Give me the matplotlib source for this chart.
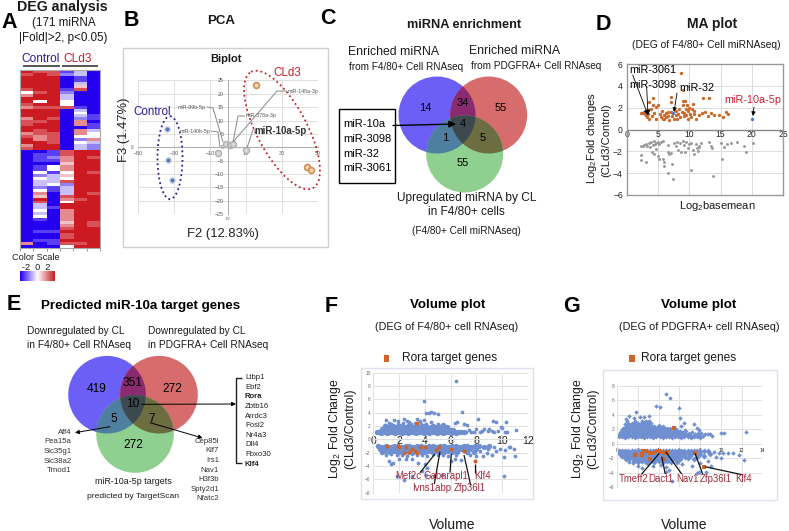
import matplotlib
matplotlib.use("Agg")
import matplotlib.pyplot as plt
import numpy as np
from matplotlib.colors import LinearSegmentedColormap
from matplotlib.patches import Circle, Ellipse, Polygon, Rectangle

plt.rcParams['font.family'] = ['Liberation Sans', 'DejaVu Sans']
plt.rcParams['mathtext.default'] = 'regular'

W, H = 789, 531

# ---------- A: heat map (level 0 = -2 ... 4 = 0 ... 8 = +2), one string per sample
HEAT_COLS = [
    "878888746" "887688867" "788678867" "00000000000" "00000000000" "00000000060",
    "788888878" "848788887" "887766888" "01110114243" "32465873343" "41000100100",
    "778888888" "888788878" "888777788" "11210441333" "41100000100" "00000100110",
    "120000123" "344700000" "000000000" "77665664547" "23337648866" "66567877874",
    "331135700" "000134326" "606642433" "88888888888" "88888788888" "88888888878",
    "000000000" "000000110" "113446322" "88788887888" "88878888888" "88778888888",
]
COLOR_SCALE_LABELS = "-2  0  2"

# ---------- B: PCA
PCA_CONTROL = [(-33.7, 7.0), (-33.2, -4.8), (-31.3, -12.1)]
PCA_CLD3 = [(15.6, 23.2), (43.7, -7.4), (46.3, -8.4)]
PCA_MIRNA = [(-5.4, -2.0), (-1.1, 1.4), (1.1, 0.8), (2.6, 1.4), (9.8, -1.1)]
PCA_XTICKS = [-50, -30, -10, 10, 30, 50]
PCA_YTICKS = [-25, -20, -15, -10, -5, 0, 5, 10, 15, 20, 25]

# ---------- D: MA plot
MA_UP = [(2.2,1.5),(2.5,1.5),(2.7,1.6),(2.9,1.4),(3.0,1.6),(3.1,1.3),(3.2,1.1),(3.3,1.8),(3.4,1.4),(3.5,1.0),
         (3.6,2.5),(3.8,1.9),(4.0,1.2),(4.1,2.85),(4.2,2.2),(4.4,1.5),(4.6,1.0),(4.7,2.1),(5.0,2.25),(5.3,1.4),
         (5.5,1.15),(5.6,1.7),(5.7,0.95),(5.9,1.3),(6.0,1.0),(6.2,1.5),(6.3,1.1),(6.5,1.6),(6.6,1.2),(6.8,0.9),
         (7.0,3.0),(7.0,2.5),(7.1,1.6),(7.2,1.2),(7.5,1.0),(7.8,1.7),(7.9,1.3),(8.0,0.95),(8.2,1.4),(8.4,1.9),
         (8.5,1.1),(8.6,5.15),(9.0,3.6),(8.8,1.6),(8.9,2.2),(9.0,2.6),(9.1,1.5),(9.2,1.2),(9.3,2.6),(9.4,1.9),
         (9.5,1.3),(9.6,2.2),(9.7,1.0),(9.8,1.7),(10.0,2.0),(10.1,1.4),(10.2,1.1),(10.4,1.9),(10.5,2.3),(10.7,1.4),
         (10.8,1.7),(11.0,1.0),(11.5,1.3),(12.0,1.5),(12.1,2.87),(12.5,1.6),(13.0,1.2),(13.2,2.87),(13.4,1.5),
         (14.0,1.3),(14.8,1.3),(15.4,1.1),(15.9,1.6),(16.2,1.4)]
MA_HIT = [(3.1,1.6),(7.3,1.55),(20.1,1.0)]
MA_DOWN = [(2.2,-1.55),(2.5,-1.5),(2.8,-1.4),(3.0,-1.3),(3.2,-1.5),(3.5,-1.2),(3.7,-1.6),(3.9,-1.1),(4.1,-1.4),
           (4.3,-1.05),(4.5,-1.3),(4.7,-1.2),(5.0,-1.1),(5.2,-1.3),(5.4,-1.15),(5.7,-1.05),(4.0,-2.1),(4.3,-2.2),
           (4.7,-1.8),(5.0,-2.4),(5.2,-2.7),(5.7,-2.7),(5.9,-3.0),(2.3,-2.3),(2.2,-2.8),(3.0,-2.95),(6.0,-3.3),
           (6.5,-1.4),(6.5,-2.1),(6.8,-2.2),(7.1,-2.15),(6.5,-3.95),(7.2,-3.2),(7.4,-4.5),(7.5,-1.2),(7.8,-1.5),
           (8.0,-1.1),(8.2,-1.9),(8.5,-1.2),(8.6,-2.1),(9.0,-1.05),(9.1,-1.4),(9.3,-2.1),(9.5,-1.1),(9.8,-1.7),
           (10.0,-1.3),(10.2,-3.7),(10.2,-1.2),(10.5,-1.9),(10.7,-2.2),(11.0,-1.3),(11.2,-1.7),(11.3,-2.0),
           (11.5,-1.5),(11.8,-1.2),(11.6,-1.6),(13.2,-1.1),(13.4,-1.5),(13.7,-1.7),(13.8,-4.25),(15.0,-1.2),
           (15.2,-2.7),(15.5,-1.6),(16.0,-1.3),(16.7,-1.2),(17.6,-1.1),(18.7,-1.55),(19.0,-2.05),(20.2,-1.25)]

# ---------- F: F4/80+ volume plot (isolated points, then the dense bands)
F_UP_SPARSE = [(6.4,8.8),(3.95,5.75),(4.1,3.9),(4.3,4.0),(4.5,4.15),(4.7,4.0),(5.0,3.8),(6.9,4.05),(6.3,2.5),(6.5,2.6),
        (7.0,2.3),(7.3,2.2),(8.1,3.0),(9.3,2.8),(9.5,2.6),(10.3,2.55),(3.4,3.1),(3.6,2.8),(3.9,2.9),(1.0,2.95),
        (1.6,2.9),(2.4,3.0),(2.6,2.8),(1.9,2.7),(0.9,2.2),(1.2,2.5),(2.8,2.6),(4.5,2.6),(11.1,1.35),(10.4,1.1),
        (10.2,1.1),(9.9,1.9),(10.0,1.7),(9.7,1.3),(9.2,1.2),(9.0,1.6),(8.9,1.2),(8.6,1.5),(8.3,1.1),(8.0,1.6),
        (7.8,1.1),(7.6,1.05),(7.4,1.4),(7.2,1.1),(8.4,1.2),(9.4,1.1),
        (1.4,2.35),(1.9,2.3),(2.3,2.4),(2.9,2.25),(3.2,2.4),(3.7,2.3),(4.1,2.35),(4.6,2.2),(5.0,2.25)]
F_UP_BAND = [(0.3,1.05),(0.45,1.1),(0.6,1.0),(0.75,1.15),(0.9,1.05),(1.05,1.0),(1.2,1.1),(1.35,1.05),(1.5,1.15),(1.65,1.0),
        (1.8,1.1),(1.95,1.05),(2.1,1.15),(2.25,1.0),(2.4,1.1),(2.55,1.05),(2.7,1.0),(2.85,1.15),(3.0,1.05),(3.15,1.1),
        (3.3,1.0),(3.45,1.1),(3.6,1.05),(3.75,1.15),(3.9,1.0),(4.05,1.1),(4.2,1.05),(4.35,1.0),(4.5,1.1),(4.65,1.05),
        (4.8,1.15),(4.95,1.0),(5.1,1.1),(5.25,1.05),(5.4,1.0),(5.55,1.1),(5.7,1.05),(5.85,1.15),(6.0,1.0),(6.15,1.1),
        (6.3,1.05),(6.45,1.0),(6.6,1.1),(6.8,1.05),(7.0,1.1),
        (0.7,1.5),(0.95,1.45),(1.2,1.6),(1.45,1.5),(1.7,1.55),(1.95,1.45),(2.2,1.6),(2.45,1.5),(2.7,1.55),(2.95,1.45),
        (3.2,1.6),(3.45,1.5),(3.7,1.55),(3.95,1.45),(4.2,1.6),(4.45,1.5),(4.7,1.5),(4.95,1.55),(5.2,1.45),(5.45,1.55),
        (5.7,1.5),(5.95,1.45),(6.2,1.4),
        (0.9,1.95),(1.2,1.85),(1.5,2.0),(1.8,1.9),(2.1,1.95),(2.4,1.85),(2.7,2.0),(3.0,1.9),(3.3,1.95),(3.6,1.85),
        (3.9,2.0),(4.2,1.85),(4.5,1.9),(4.8,1.85),(5.1,1.9),(5.4,2.1),(5.7,1.85)]
F_DOWN_SPARSE = [(1.8,-5.5),(2.4,-6.05),(3.0,-5.5),(1.2,-3.3),(1.4,-3.7),(1.5,-3.5),(2.0,-3.0),(2.5,-3.0),(3.0,-3.0),
          (3.5,-3.5),(4.0,-3.7),(4.2,-4.3),(3.8,-4.8),(4.1,-5.3),(5.3,-5.3),(4.7,-5.5),(6.0,-3.3),(6.3,-3.0),
          (6.8,-3.1),(7.5,-2.4),(8.0,-2.5),(8.5,-2.5),(8.8,-2.1),(9.2,-2.3),(9.5,-1.7),(10.1,-2.6),(10.6,-1.2),
          (10.9,-1.5),(11.0,-2.5),(10.1,-5.5),(10.5,-1.1),(10.2,-1.6),(9.8,-1.4),(9.4,-1.2),(8.9,-1.4),(8.3,-1.7),
          (1.0,-2.3),(1.4,-2.25),(1.8,-2.4),(2.2,-2.3),(2.6,-2.45),(3.0,-2.25),(3.4,-2.4),(3.8,-2.3),(4.2,-2.45),(4.6,-2.25),
          (5.0,-2.4),(5.4,-2.3),(5.8,-2.5),(6.4,-2.4)]
F_DOWN_BAND = [(0.4,-1.05),(0.7,-1.1),(1.0,-1.0),(1.3,-1.1),(1.6,-1.05),(1.9,-1.0),(2.2,-1.1),(2.5,-1.05),(2.8,-1.0),(3.1,-1.1),
          (3.4,-1.05),(3.7,-1.0),(4.0,-1.1),(4.3,-1.05),(4.6,-1.0),(4.9,-1.1),(5.2,-1.05),(5.5,-1.0),(5.8,-1.1),(6.1,-1.05),
          (6.4,-1.0),(6.7,-1.1),(7.0,-1.05),(7.3,-1.0),(7.6,-1.1),(7.9,-1.05),(8.2,-1.0),(8.6,-1.1),(9.0,-1.0),
          (0.5,-1.4),(0.8,-1.45),(1.1,-1.35),(1.4,-1.45),(1.7,-1.4),(2.0,-1.35),(2.3,-1.45),(2.6,-1.4),(2.9,-1.5),(3.2,-1.4),
          (3.5,-1.35),(3.8,-1.45),(4.1,-1.4),(4.4,-1.5),(4.7,-1.35),(5.0,-1.45),(5.3,-1.4),(5.6,-1.5),(5.9,-1.35),(6.2,-1.45),
          (6.5,-1.4),(6.8,-1.5),(7.1,-1.4),(7.5,-1.45),(8.0,-1.5),
          (0.7,-1.85),(1.0,-1.8),(1.3,-1.9),(1.6,-1.8),(1.9,-1.85),(2.2,-1.9),(2.5,-1.75),(2.8,-1.85),(3.1,-1.9),(3.4,-1.8),
          (3.7,-1.9),(4.0,-1.85),(4.3,-1.75),(4.6,-1.9),(4.9,-1.8),(5.2,-1.85),(5.5,-1.9),(5.8,-1.8),(6.1,-1.95),(6.5,-1.85),
          (7.3,-1.95),(7.8,-1.85)]
F_RORA = [(3.4,2.45),(1.05,-1.0),(1.9,-1.05),(2.0,-1.1),(2.5,-1.2),(2.4,-2.05),(2.8,-1.9),(3.0,-1.5),(3.2,-1.8),
          (3.4,-2.0),(3.6,-1.1),(4.0,-1.2),(4.9,-1.6),(5.1,-1.1),(6.0,-1.4),(7.0,-1.7),(7.9,-3.2)]
F_XTICKS = [0, 2, 4, 6, 8, 10, 12]
F_YTICKS = [-8, -6, -4, -2, 0, 2, 4, 6, 8, 10]

# ---------- G: PDGFRA+ volume plot
G_UP_SPARSE = [(4.7,6.95),(5.1,6.4),(3.75,5.25),(4.15,5.15),(6.0,5.0),(6.1,3.6),(1.85,4.4),(0.9,3.5),(1.2,3.8),(1.6,3.6),
        (2.2,3.65),(2.6,3.7),(3.1,3.85),(0.8,2.8),(1.0,3.1),(6.2,2.5),(6.5,2.9),(7.4,2.7),(7.7,2.2),(7.9,1.9),
        (8.5,1.3),(8.8,1.3),(9.0,1.4),(9.2,1.1),(10.0,1.5),(10.3,1.45),(12.4,1.7),(8.3,1.1),(8.1,1.5),(7.5,1.3),(7.2,1.6),
        (1.7,3.15),(2.4,3.1),(2.8,3.2),(3.1,3.1)]
G_UP_BAND = [(0.2,1.05),(0.5,1.1),(0.8,1.0),(1.1,1.1),(1.4,1.05),(1.7,1.0),(2.0,1.1),(2.3,1.05),(2.6,1.0),(2.9,1.1),
        (3.2,1.05),(3.5,1.0),(3.8,1.1),(4.1,1.05),(4.4,1.0),(4.7,1.1),(5.0,1.05),(5.3,1.0),(5.6,1.1),(5.9,1.05),
        (6.2,1.0),(6.5,1.1),(6.8,1.05),(7.1,1.0),(7.4,1.1),(7.7,1.05),(8.0,1.0),
        (0.3,1.4),(0.6,1.35),(0.9,1.45),(1.2,1.35),(1.5,1.4),(1.8,1.45),(2.1,1.35),(2.4,1.4),(2.7,1.45),(3.0,1.35),
        (3.3,1.4),(3.6,1.45),(3.9,1.35),(4.2,1.4),(4.5,1.45),(4.8,1.35),(5.1,1.4),(5.4,1.45),(5.7,1.35),(6.0,1.4),
        (6.3,1.45),(6.6,1.35),(6.9,1.4),(7.8,1.4),
        (0.4,1.7),(0.7,1.75),(1.0,1.65),(1.3,1.75),(1.6,1.7),(1.9,1.65),(2.2,1.75),(2.5,1.7),(2.8,1.65),(3.1,1.75),
        (3.4,1.7),(3.7,1.65),(4.0,1.75),(4.3,1.7),(4.6,1.65),(4.9,1.75),(5.2,1.7),(5.5,1.65),(5.8,1.75),(6.1,1.7),(6.6,1.75),
        (0.6,2.05),(0.9,2.0),(1.2,2.1),(1.5,2.05),(1.8,2.0),(2.1,2.1),(2.4,2.05),(2.7,2.0),(3.0,2.1),(3.3,2.05),
        (3.6,2.0),(3.9,2.1),(4.2,2.05),(4.5,2.0),(4.8,2.1),(5.1,2.0),(5.6,2.1),
        (0.9,2.4),(1.2,2.35),(1.5,2.45),(1.8,2.4),(2.1,2.35),(2.4,2.45),(2.7,2.4),(3.0,2.35),(3.3,2.45),(3.6,2.4),(4.0,2.5),(4.4,2.4),
        (1.1,2.8),(1.4,2.75),(1.7,2.85),(2.0,2.8),(2.3,2.75),(2.6,2.85),(2.9,2.8),(3.2,2.9)]
G_DOWN_SPARSE = [(0.8,-2.0),(1.2,-2.5),(1.5,-2.7),(2.0,-3.0),(2.4,-3.3),(3.0,-2.8),(3.5,-3.0),(4.2,-2.9),(4.7,-3.2),(5.0,-3.6),
          (5.3,-5.15),(4.7,-3.9),(6.3,-2.8),(7.2,-3.1),(7.7,-4.0),(7.9,-3.9),(8.6,-3.9),(9.1,-3.0),(8.0,-2.7),(8.8,-2.4),
          (9.5,-1.8),(10.0,-2.0),(10.2,-1.3),(10.7,-1.2),(11.2,-1.2),(11.8,-1.5),(12.2,-2.2),(9.8,-1.2),(9.3,-1.1)]
G_DOWN_BAND = [(0.2,-1.0),(0.5,-1.05),(0.8,-0.95),(1.1,-1.05),(1.4,-1.0),(1.7,-0.95),(2.0,-1.05),(2.3,-1.0),(2.6,-0.95),(2.9,-1.05),
          (3.2,-1.0),(3.5,-0.95),(3.8,-1.05),(4.1,-1.0),(4.4,-0.95),(4.7,-1.05),(5.0,-1.0),(5.3,-0.95),(5.6,-1.05),(5.9,-1.0),
          (6.2,-0.95),(6.5,-1.05),(6.8,-1.0),(7.1,-0.95),(7.4,-1.05),(7.7,-1.0),(8.0,-0.95),(8.4,-1.05),(8.8,-1.0),
          (0.3,-1.35),(0.6,-1.4),(0.9,-1.3),(1.2,-1.4),(1.5,-1.35),(1.8,-1.3),(2.1,-1.4),(2.4,-1.35),(2.7,-1.3),(3.0,-1.4),
          (3.3,-1.35),(3.6,-1.3),(3.9,-1.4),(4.2,-1.35),(4.5,-1.3),(4.8,-1.4),(5.1,-1.35),(5.4,-1.3),(5.7,-1.4),(6.0,-1.35),
          (6.3,-1.3),(6.6,-1.4),(6.9,-1.35),(7.2,-1.3),(7.6,-1.4),(8.0,-1.35),(9.0,-1.4),
          (0.5,-1.7),(0.8,-1.75),(1.1,-1.65),(1.4,-1.75),(1.7,-1.7),(2.0,-1.65),(2.3,-1.75),(2.6,-1.7),(2.9,-1.65),(3.2,-1.75),
          (3.5,-1.7),(3.8,-1.65),(4.1,-1.75),(4.4,-1.7),(4.7,-1.65),(5.0,-1.75),(5.3,-1.7),(5.6,-1.65),(5.9,-1.75),(6.2,-1.7),
          (6.6,-1.75),(7.0,-1.7),(7.7,-1.75),(8.4,-1.7),
          (0.9,-2.05),(1.2,-2.1),(1.5,-2.0),(1.8,-2.1),(2.1,-2.05),(2.4,-2.0),(2.7,-2.1),(3.0,-2.05),(3.3,-2.0),(3.6,-2.1),
          (3.9,-2.05),(4.2,-2.0),(4.5,-2.1),(4.8,-2.05),(5.1,-2.0),(5.4,-2.1),(5.7,-2.05),(6.1,-2.1),(6.8,-2.0),(7.4,-2.1),
          (1.6,-2.4),(2.0,-2.45),(2.4,-2.4),(2.8,-2.5),(3.2,-2.4),(3.6,-2.45),(4.0,-2.4),(4.4,-2.5),(4.8,-2.4),(5.2,-2.45),(5.8,-2.5)]
G_RORA = [(5.45,2.2),(1.75,-1.55),(2.4,-1.55),(2.45,-1.4),(2.6,-1.05),(2.8,-0.95),(3.2,-2.15),(3.2,-1.3),(3.5,-1.2),
          (3.9,-1.0),(4.0,-1.0),(4.3,-1.15),(4.5,-2.15),(4.6,-1.2),(4.8,-1.1),(7.5,-1.3),(8.4,-3.15)]
G_XTICKS = [0, 2, 4, 6, 8, 10, 12, 14]
G_YTICKS = [-6, -4, -2, 0, 2, 4, 6, 8]

# ---------- venn counts and gene lists
VENN_C = [("14",425.5,108),("34",463,103),("55",501,108),("4",463,124),("1",445.5,138),("5",483,138),("55",463,163)]
VENN_E = [("419",96.7,389),("351",132.7,382.7),("272",172,389),("10",133,404),("5",114,418.7),("7",151.7,418.7),("272",133,444.7)]
MIRNA_BOX = ["miR-10a", "miR-3098", "miR-32", "miR-3061"]
GENES_LEFT = ["Aff4", "Pea15a", "Slc35g1", "Slc38a2", "Tmod1"]
GENES_MID = ["Cep85l", "Klf7", "Irs1", "Nav1", "H3f3b", "Spty2d1", "Nfatc2"]
GENES_RIGHT = ["Ltbp1", "Ebf2", "Rora", "Zbtb16", "Arrdc3", "Fosl2", "Nr4a3", "Dll4", "Fbxo30", "Klf4"]
GENES_BOLD = ["Rora", "Klf4"]

BLUE = '#6f8fd0'
ORANGE = '#d0632a'
DARKRED = '#a02c3c'
NAVY = '#2a1f96'
RED = '#c8202c'
TXT = '#1a1a1a'

fig = plt.figure(figsize=(W / 100, H / 100), dpi=100, facecolor='white')


def rect(x0, y0, x1, y1):
    return [x0 / W, 1 - y1 / H, (x1 - x0) / W, (y1 - y0) / H]


bg = fig.add_axes([0, 0, 1, 1], zorder=0)
bg.set_xlim(0, W); bg.set_ylim(H, 0); bg.axis('off')
ov = fig.add_axes([0, 0, 1, 1], zorder=10)
ov.set_xlim(0, W); ov.set_ylim(H, 0); ov.axis('off'); ov.patch.set_alpha(0)


def T(x, y, s, size=7, weight='normal', color=TXT, ha='center', rot=0):
    ov.text(x, y, s, fontsize=size, fontweight=weight, color=color, ha=ha, va='center', rotation=rot)


def L(pts, color='black', lw=0.9):
    ov.plot([p[0] for p in pts], [p[1] for p in pts], color=color, lw=lw, solid_capstyle='butt')


def A(p0, p1, lw=0.8, ms=7, color='black'):
    ov.annotate('', xy=p1, xytext=p0,
                arrowprops=dict(arrowstyle='-|>', lw=lw, color=color, mutation_scale=ms, shrinkA=0, shrinkB=0))


# panel letters
for s, x, y in [("A", 9, 22), ("B", 131, 21), ("C", 328, 19), ("D", 603, 24), ("E", 14, 305), ("F", 331, 306), ("G", 572, 306)]:
    T(x, y, s, size=15.5, weight='bold', color='black')

# ---- A
T(62, 7, "DEG analysis", 10.2, 'bold')
T(64, 23, "(171 miRNA", 8.4)
T(63, 38, "|Fold|>2, p<0.05)", 8.4)
T(41, 59, "Control", 8.6, color=NAVY)
T(78, 59, "CLd3", 8.6, color=RED)
L([(23, 65.5), (60, 65.5)], '#555555', 1.4)
L([(62, 65.5), (98, 65.5)], '#555555', 1.4)

heat = np.array([[-2 + int(ch) / 2 for ch in col] for col in HEAT_COLS]).T
cmap = LinearSegmentedColormap.from_list('h', ['#2400ee', '#ffffff', '#cc1a22'])
axh = fig.add_axes(rect(20, 70, 100, 248), zorder=2)
axh.imshow(heat, cmap=cmap, vmin=-2, vmax=2, aspect='auto', interpolation='nearest')
axh.set_xticks(np.arange(-0.5, 6.5, 1)); axh.set_xticklabels([])
axh.set_yticks([])
axh.tick_params(axis='x', length=2, color='#999999', width=0.7)
for sp in axh.spines.values():
    sp.set_color('#aaaaaa'); sp.set_linewidth(0.8)

T(36, 258, "Color Scale", 6.6)
T(36, 267.5, COLOR_SCALE_LABELS, 6.6)
axc = fig.add_axes(rect(20, 271, 55, 281), zorder=2)
axc.imshow(np.linspace(-2, 2, 64)[None, :], cmap=cmap, vmin=-2, vmax=2, aspect='auto')
axc.axis('off')

# ---- B
bg.add_patch(Rectangle((123, 48), 205, 199, fc='white', ec='#d0d0d0', lw=1))
T(221, 21, "PCA", 9.5, 'bold')
T(226, 59, "Biplot", 8, 'bold')
axp = fig.add_axes(rect(138, 80.5, 318, 214), zorder=2)
axp.set_xlim(-50, 50); axp.set_ylim(-25, 25)
axp.set_xticks(PCA_XTICKS); axp.set_yticks(PCA_YTICKS)
axp.grid(True, color='#dedede', lw=0.7)
axp.set_axisbelow(True)
for k in ('top', 'right'):
    axp.spines[k].set_visible(False)
axp.spines['left'].set_position('zero'); axp.spines['bottom'].set_position('zero')
axp.spines['left'].set_color('#b0b0b0'); axp.spines['bottom'].set_color('#b0b0b0')
axp.tick_params(length=0, labelsize=3.8, labelcolor='#555555', pad=3)
axp.patch.set_alpha(0)
axp.plot(*zip(*PCA_CONTROL), ls='', marker='o', ms=3.8, mfc='#5577b0', mec='#c4d0e6', mew=1.0)
axp.plot(*zip(*PCA_CLD3), ls='', marker='o', ms=4.2, mfc='#f0d8bc', mec='#cf8f50', mew=1.2)
axp.plot(*zip(*PCA_MIRNA), ls='', marker='o', ms=4.4, mfc='#d8d8d8', mec='#b0b0b0', mew=1.0)

T(192, 107, "miR-99b-5p", 3.8, color='#555555')
T(195, 131, "miR-140b-5p", 3.8, color='#555555')
T(261, 116, "miR-378a-3p", 3.8, color='#555555')
T(303, 92, "miR-148a-3p", 3.8, color='#555555')
T(281, 131, "miR-10a-5p", 7, 'bold', color='#333333')
for pts in ([(207, 107), (213, 108), (223, 142)], [(211, 131), (218, 132), (220, 147)],
            [(245, 116), (238, 116), (233, 142)], [(287, 91), (277, 91), (233, 142)], [(257, 130), (253, 130), (247, 148)]):
    L(pts, '#888888', 0.7)
ov.add_patch(Ellipse((170, 157.7), 25, 83, fc='none', ec=NAVY, ls=':', lw=1.3))
ov.add_patch(Ellipse((282, 130), 50, 131.6, angle=-28, fc='none', ec=RED, ls=':', lw=1.3))
T(152, 112, "Control", 8.4, color=NAVY)
T(287, 73, "CLd3", 8.4, color=RED)
T(223, 234, "F2 (12.83%)", 9.4, color='#222222')
T(124, 130, "F3 (1.47%)", 9.4, color='#222222', rot=90)
T(228, 219, "F2", 3, color='#555555')
T(134, 146, "F3", 3, color='#555555', rot=90)


# ---- venns
def lens(c1, c2, r):
    t = np.linspace(0, 2 * np.pi, 400)
    a = np.c_[c1[0] + r * np.cos(t), c1[1] + r * np.sin(t)]
    b = np.c_[c2[0] + r * np.cos(t), c2[1] + r * np.sin(t)]
    pts = np.vstack([a[np.hypot(a[:, 0] - c2[0], a[:, 1] - c2[1]) <= r],
                     b[np.hypot(b[:, 0] - c1[0], b[:, 1] - c1[1]) <= r]])
    m = pts.mean(axis=0)
    return pts[np.argsort(np.arctan2(pts[:, 1] - m[1], pts[:, 0] - m[0]))]


def venn(cb, cr, cg, r):
    for c, col in ((cb, '#6b5ff5'), (cr, '#d76c6c'), (cg, '#8fd090')):
        bg.add_patch(Circle(c, r, fc=col, ec='none'))
    for c1, c2, col in ((cb, cr, '#8a2a70'), (cb, cg, '#4f7fa0'), (cr, cg, '#6d6d42')):
        bg.add_patch(Polygon(lens(c1, c2, r), fc=col, ec='none'))
    p = Polygon(lens(cb, cr, r), fc='#3c4a50', ec='none')
    bg.add_patch(p)
    p.set_clip_path(Circle(cg, r, transform=bg.transData))


venn((437, 115), (488.7, 115), (464.7, 154), 38.5)
venn((107, 394.7), (159, 394.7), (135, 434), 38.8)

# ---- C
T(464, 25, "miRNA enrichment", 9.2, 'bold')
T(394, 52, "Enriched miRNA", 8.8)
T(406, 67, "from F4/80+ Cell RNAseq", 7.2)
T(515, 50.5, "Enriched miRNA", 8.8)
T(536, 66, "from PDGFRA+ Cell RNAseq", 7.2)
T(467, 198, "Upregulated miRNA by CL", 8.6)
T(466.5, 212, "in F4/80+ cells", 8.6)
T(466.5, 231, "(F4/80+ Cell miRNAseq)", 7.2)
for s, x, y in VENN_C:
    T(x, y, s, 8, color='black')
ov.add_patch(Rectangle((339, 109), 56, 74, fc='white', ec='black', lw=1))
for s, y in zip(MIRNA_BOX, [124, 139, 154, 168]):
    T(343, y, s, 8, ha='left', color='black')
A((393, 125.5), (456, 124), lw=1, ms=10)

# ---- D
T(712, 24, "MA plot", 10, 'bold')
T(706, 45, "(DEG of F4/80+ Cell miRNAseq)", 7.4)
axd = fig.add_axes(rect(627, 64, 783, 195), zorder=2)
axd.set_xlim(0, 25); axd.set_ylim(-6, 6)
axd.set_xticks([0, 5, 10, 15, 20, 25]); axd.set_yticks([-6, -4, -2, 0, 2, 4, 6])
axd.grid(True, color='#dcdcdc', lw=0.7); axd.set_axisbelow(True)
for sp in axd.spines.values():
    sp.set_color('#999999'); sp.set_linewidth(1)
axd.axhline(0, color='#888888', lw=1, zorder=1)
axd.tick_params(length=0, labelsize=6.2, labelcolor='#222222')
axd.tick_params(axis='y', pad=3)
axd.tick_params(axis='x', pad=-47)
axd.patch.set_alpha(0)
axd.plot(*zip(*MA_DOWN), ls='', marker='o', ms=2.1, color='#999999', mew=0)
axd.plot(*zip(*MA_UP), ls='', marker='o', ms=2.4, color='#c96a28', mew=0)
axd.plot(*zip(*MA_HIT), ls='', marker='o', ms=2.4, color='#4f78cc', mew=0)
T(653, 70, "miR-3061", 7.8, color='black')
T(653, 85, "miR-3098", 7.8, color='black')
T(697, 88, "miR-32", 7.8, color='black')
T(752.7, 100, "miR-10a-5p", 7.8, color=RED)
A((632.7, 75), (648, 115), lw=0.6, ms=7)
A((646.7, 88), (648, 115), lw=0.6, ms=7)
A((677, 93), (674, 112), lw=0.6, ms=6)
A((754, 107), (753, 116), lw=0.6, ms=6)
T(592, 138, "Log$_2$Fold changes", 8, rot=90)
T(606, 140, "(CLd3/Control)", 8, rot=90)
T(717, 206, "Log$_2$basemean", 8)

# ---- E
T(141, 306, "Predicted miR-10a target genes", 9.6, 'bold', color='black')
T(76, 331, "Downregulated by CL", 7.3)
T(79, 345, "in F4/80+ Cell RNAseq", 7.3)
T(197, 331, "Downregulated by CL", 7.3)
T(208, 345, "in PDGFRA+ Cell RNAseq", 7.3)
for s, x, y in VENN_E:
    T(x, y, s, 8.6, color='black')
T(133, 482, "miR-10a-5p targets", 6.4)
T(133, 496.7, "predicted by TargetScan", 6.1)
for i, s in enumerate(GENES_LEFT):
    T(71.7, 432.3 + 9.6 * i, s, 5.6, ha='right', color='#333333')
for i, s in enumerate(GENES_MID):
    T(219, 441.3 + 9.6 * i, s, 5.6, ha='right', color='#333333')
for i, s in enumerate(GENES_RIGHT):
    T(245, 377.7 + 9.6 * i, s, 5.6, ha='left', color='#222222', weight='bold' if s in GENES_BOLD else 'normal')
L([(242, 378), (236, 378), (236, 463), (242, 463)], '#222222', 1)
A((141.7, 404.3), (236, 404), lw=0.7, ms=6)
A((110, 426.7), (75, 432.7), lw=0.7, ms=6)
A((150, 422.7), (202.7, 438), lw=0.7, ms=6)


# ---- volume plots
def volume(frame, area, xlim, ylim, xticks, yticks, sparse, band, rora, marker, ms, bms, rmarker, rms, xsize, xpad):
    bg.add_patch(Rectangle((frame[0], frame[1]), frame[2] - frame[0], frame[3] - frame[1],
                           fc='white', ec='#dde2ee', lw=1))
    ax = fig.add_axes(rect(*area), zorder=2)
    ax.set_xlim(*xlim); ax.set_ylim(*ylim)
    ax.set_xticks(xticks); ax.set_yticks(yticks)
    ax.grid(True, color='#e2e2e2', lw=0.7); ax.set_axisbelow(True)
    for k in ('top', 'right', 'bottom'):
        ax.spines[k].set_visible(False)
    ax.spines['left'].set_color('#e2e2e2')
    ax.axhline(0, color='#dddddd', lw=0.7, zorder=1)
    ax.tick_params(length=0)
    ax.tick_params(axis='y', labelsize=3.4, labelcolor='#666666', pad=2)
    ax.tick_params(axis='x', labelsize=xsize, labelcolor='#222222', pad=xpad)
    ax.patch.set_alpha(0)
    for pts in sparse:
        ax.plot(*zip(*pts), ls='', marker=marker, ms=ms, color=BLUE, mew=0)
    for pts in band:
        ax.plot(*zip(*pts), ls='', marker=marker, ms=bms, color=BLUE, mew=0)
    ax.plot(*zip(*rora), ls='', marker=rmarker, ms=rms, color=ORANGE, mew=0)
    return ax


axf = volume((360.7, 367.7, 533, 499.3), (373.3, 372.7, 528, 492.7), (0, 12), (-8, 10), F_XTICKS, F_YTICKS,
             (F_UP_SPARSE, F_DOWN_SPARSE), (F_UP_BAND, F_DOWN_BAND), F_RORA, 'o', 2.7, 3.9, 'o', 2.9, 7.6, -41)
axg = volume((603, 370, 776.7, 500), (617, 386, 762.3, 487.3), (0, 14), (-6, 8), G_XTICKS, G_YTICKS,
             (G_UP_SPARSE, G_DOWN_SPARSE), (G_UP_BAND, G_DOWN_BAND), G_RORA, 'D', 2.3, 3.1, 's', 3.4, 3.4, -28)

T(448, 305, "Volume plot", 9.6, 'bold', color='black')
T(446.7, 327, "(DEG of F4/80+ cell RNAseq)", 7.8)
ov.add_patch(Rectangle((384, 354.5), 5.5, 7, fc=ORANGE, ec='none'))
T(402, 357.7, "Rora target genes", 8.6, ha='left')
T(335, 429, "Log$_2$ Fold Change", 8.8, rot=90)
T(350, 429, "(CLd3/Control)", 8.8, rot=90)
T(451.7, 525, "Volume", 10)

T(699, 305, "Volume plot", 9.6, 'bold', color='black')
T(699, 327, "(DEG of PDGFRA+ cell RNAseq)", 7.8)
ov.add_patch(Rectangle((629.5, 354.5), 5.5, 7, fc=ORANGE, ec='none'))
T(641, 358, "Rora target genes", 8.6, ha='left')
T(578, 429, "Log$_2$ Fold Change", 8.8, rot=90)
T(593, 429, "(CLd3/Control)", 8.8, rot=90)
T(684, 525, "Volume", 10)

for s, x, y in [("Mef2c", 408, 476), ("Gabarapl1", 446, 476), ("Ivns1abp", 431.7, 487.7),
                ("Zfp36l1", 469.7, 487.7), ("Klf4", 482.7, 476),
                ("Tmeff2", 633.5, 479.3), ("Dact1", 660.5, 479.3), ("Nav1", 688, 479.3),
                ("Zfp36l1", 716, 479.3), ("Klf4", 744, 479.3)]:
    T(x, y, s, 6.9, color=DARKRED)
for pts in ([(420, 472.7), (435, 454)], [(434.3, 484), (440, 451.7)], [(450, 472.7), (451.3, 454)],
            [(470.7, 485.3), (464, 455)], [(475.3, 472.7), (475.3, 464)],
            [(641.7, 474), (659.3, 453.3)], [(665.3, 474), (661.7, 456.7)], [(681.7, 474), (665.7, 451.7)],
            [(702.7, 474), (695, 453.3)], [(743.3, 475), (705, 466.7)]):
    L(pts, '#111111', 0.9)

fig.savefig('out.png', dpi=100, facecolor='white')
